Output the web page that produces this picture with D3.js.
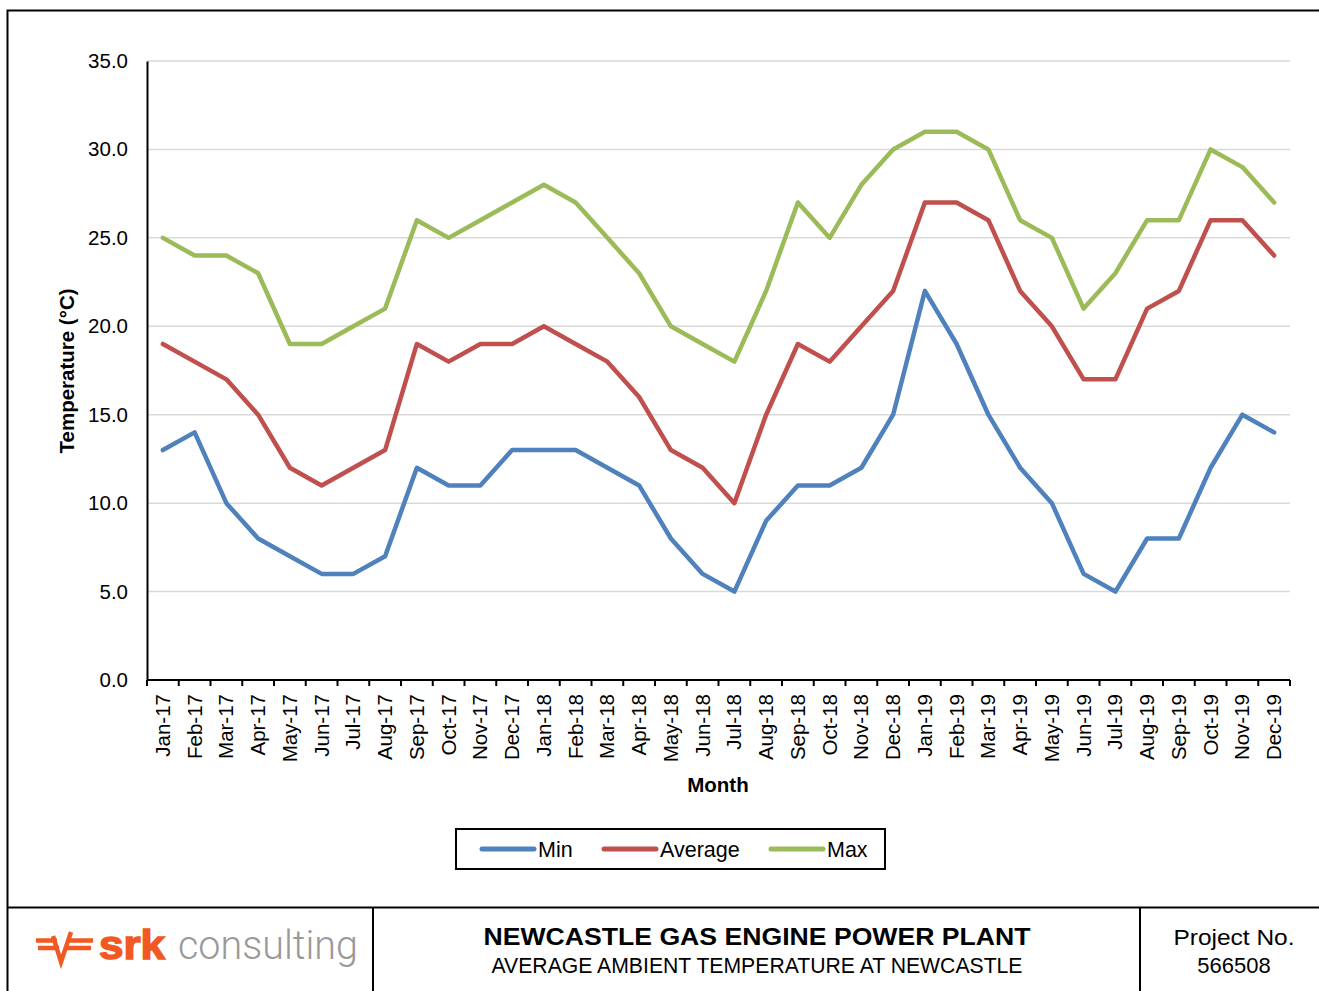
<!DOCTYPE html>
<html>
<head>
<meta charset="utf-8">
<script src="https://cdn.jsdelivr.net/npm/d3@7"></script>
<style>
  body { margin: 0; background: #fff; }
  svg { display: block; font-family: "Liberation Sans", Arial, sans-serif; }
</style>
</head>
<body>
<svg id="chart" width="1319" height="991"></svg>
<script>
// month labels
var months = ["Jan-17","Feb-17","Mar-17","Apr-17","May-17","Jun-17","Jul-17","Aug-17","Sep-17","Oct-17","Nov-17","Dec-17",
              "Jan-18","Feb-18","Mar-18","Apr-18","May-18","Jun-18","Jul-18","Aug-18","Sep-18","Oct-18","Nov-18","Dec-18",
              "Jan-19","Feb-19","Mar-19","Apr-19","May-19","Jun-19","Jul-19","Aug-19","Sep-19","Oct-19","Nov-19","Dec-19"];
var minTemp = [13,14,10,8,7,6,6,7,12,11,11,13, 13,13,12,11,8,6,5,9,11,11,12,15, 22,19,15,12,10,6,5,8,8,12,15,14];
var avgTemp = [19,18,17,15,12,11,12,13,19,18,19,19, 20,19,18,16,13,12,10,15,19,18,20,22, 27,27,26,22,20,17,17,21,22,26,26,24];
var maxTemp = [25,24,24,23,19,19,20,21,26,25,26,27, 28,27,25,23,20,19,18,22,27,25,28,30, 31,31,30,26,25,21,23,26,26,30,29,27];
var yTicks = [0,5,10,15,20,25,30,35];

var series = [
  { name: "Min", values: minTemp, color: "#4f81bd" },
  { name: "Average", values: avgTemp, color: "#c0504d" },
  { name: "Max", values: maxTemp, color: "#9bbb59" }
];

var svg = d3.select("#chart");

// outer frame
svg.append("path")
  .attr("d", "M7.5,991 V10.5 H1319")
  .attr("fill", "none").attr("stroke", "#000").attr("stroke-width", 2);

var plot = { left: 147, right: 1290, top: 61, bottom: 680 };

var x = d3.scaleBand().domain(months).range([plot.left, plot.right]);
var y = d3.scaleLinear().domain([0, 35]).range([plot.bottom, plot.top]);

// gridlines
svg.append("g").selectAll("line").data(yTicks.filter(function (d) { return d > 0; }))
  .enter().append("line")
  .attr("x1", plot.left).attr("x2", plot.right)
  .attr("y1", function (d) { return y(d); }).attr("y2", function (d) { return y(d); })
  .attr("stroke", "#d9d9d9").attr("stroke-width", 1.5);

// y axis
var yAxis = svg.append("g").attr("transform", "translate(" + plot.left + ",0)")
  .call(d3.axisLeft(y).tickValues(yTicks).tickSize(0).tickPadding(19).tickFormat(d3.format(".1f")));
yAxis.select(".domain").attr("stroke", "#000").attr("stroke-width", 2);
yAxis.selectAll("text").attr("font-size", 20.5).attr("fill", "#000")
  .attr("font-family", "Liberation Sans, Arial, sans-serif");

// x axis with ticks between categories
var xAxisG = svg.append("g").attr("transform", "translate(0," + plot.bottom + ")");
xAxisG.append("line").attr("x1", plot.left).attr("x2", plot.right)
  .attr("stroke", "#000").attr("stroke-width", 2);
var boundaries = d3.range(months.length + 1);
xAxisG.selectAll("line.tick").data(boundaries).enter().append("line")
  .attr("class", "tick")
  .attr("x1", function (i) { return plot.left + i * x.step(); })
  .attr("x2", function (i) { return plot.left + i * x.step(); })
  .attr("y1", 0).attr("y2", 6)
  .attr("stroke", "#000").attr("stroke-width", 2);
xAxisG.selectAll("text").data(months).enter().append("text")
  .attr("transform", function (d) {
    return "translate(" + (x(d) + x.bandwidth() / 2 + 7) + ",14) rotate(-90)";
  })
  .attr("text-anchor", "end")
  .attr("font-size", 20.5)
  .text(function (d) { return d; });

// axis titles
svg.append("text")
  .attr("transform", "translate(74,371) rotate(-90)")
  .attr("text-anchor", "middle").attr("font-size", 20.5).attr("font-weight", "bold")
  .text("Temperature (°C)");
svg.append("text")
  .attr("x", 718).attr("y", 792)
  .attr("text-anchor", "middle").attr("font-size", 20.5).attr("font-weight", "bold")
  .text("Month");

// lines
var line = d3.line()
  .x(function (d, i) { return x(months[i]) + x.bandwidth() / 2; })
  .y(function (d) { return y(d); });

svg.append("g").selectAll("path").data(series).enter().append("path")
  .attr("d", function (s) { return line(s.values); })
  .attr("fill", "none")
  .attr("stroke", function (s) { return s.color; })
  .attr("stroke-width", 4.5)
  .attr("stroke-linejoin", "round")
  .attr("stroke-linecap", "round");

// legend
var legend = svg.append("g");
legend.append("rect").attr("x", 456).attr("y", 829).attr("width", 429).attr("height", 40)
  .attr("fill", "#fff").attr("stroke", "#000").attr("stroke-width", 2);
var legendX = [482, 604, 771];
var legendItem = legend.selectAll("g.item").data(series).enter().append("g")
  .attr("class", "item")
  .attr("transform", function (d, i) { return "translate(" + legendX[i] + ",849)"; });
legendItem.append("line").attr("x1", 0).attr("x2", 52).attr("y1", 0).attr("y2", 0)
  .attr("stroke", function (d) { return d.color; })
  .attr("stroke-width", 5).attr("stroke-linecap", "round");
legendItem.append("text").attr("x", 56).attr("y", 8).attr("font-size", 21.5)
  .text(function (d) { return d.name; });

// title block
var block = svg.append("g");
block.append("line").attr("x1", 7).attr("x2", 1319).attr("y1", 907.5).attr("y2", 907.5)
  .attr("stroke", "#000").attr("stroke-width", 2);
block.append("line").attr("x1", 373).attr("x2", 373).attr("y1", 907).attr("y2", 991)
  .attr("stroke", "#000").attr("stroke-width", 2);
block.append("line").attr("x1", 1140).attr("x2", 1140).attr("y1", 907).attr("y2", 991)
  .attr("stroke", "#000").attr("stroke-width", 2);

block.append("text").attr("x", 757).attr("y", 945)
  .attr("text-anchor", "middle").attr("font-size", 24).attr("font-weight", "bold")
  .attr("textLength", 547).attr("lengthAdjust", "spacingAndGlyphs")
  .text("NEWCASTLE GAS ENGINE POWER PLANT");
block.append("text").attr("x", 757).attr("y", 973)
  .attr("text-anchor", "middle").attr("font-size", 22)
  .attr("textLength", 531).attr("lengthAdjust", "spacingAndGlyphs")
  .text("AVERAGE AMBIENT TEMPERATURE AT NEWCASTLE");
block.append("text").attr("x", 1234).attr("y", 945)
  .attr("text-anchor", "middle").attr("font-size", 22)
  .attr("textLength", 121).attr("lengthAdjust", "spacingAndGlyphs")
  .text("Project No.");
block.append("text").attr("x", 1234).attr("y", 973)
  .attr("text-anchor", "middle").attr("font-size", 22)
  .text("566508");

// logo
var logo = block.append("g");
var orange = "#f05a22";
logo.append("path")
  .attr("d", "M36,940.5 H57 M38,948 H59 M69,940.5 H93 M67,948 H91 M53,936 L61,962 L71,932")
  .attr("fill", "none").attr("stroke", orange).attr("stroke-width", 4.5)
  .attr("stroke-linejoin", "miter");
logo.append("text").attr("x", 99).attr("y", 959).attr("font-size", 40).attr("font-weight", 900)
  .attr("fill", orange).attr("font-family", "Liberation Sans, Arial, sans-serif")
  .attr("textLength", 66).attr("lengthAdjust", "spacingAndGlyphs")
  .attr("stroke", orange).attr("stroke-width", 1.5)
  .text("srk");
logo.append("text").attr("x", 178).attr("y", 959).attr("font-size", 40)
  .attr("fill", "#999").attr("font-family", "Roboto, 'Noto Sans', sans-serif")
  .attr("font-weight", 300)
  .attr("textLength", 180).attr("lengthAdjust", "spacingAndGlyphs")
  .text("consulting");
</script>
</body>
</html>
